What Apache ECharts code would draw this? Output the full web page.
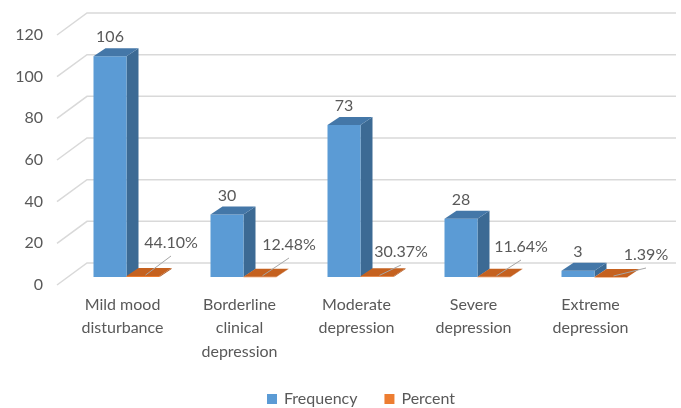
<!DOCTYPE html>
<html>
<head>
<meta charset="utf-8">
<script src="https://cdn.jsdelivr.net/npm/echarts@6/dist/echarts.min.js"></script>
<style>
  html, body { margin: 0; padding: 0; background: #fff; }
  #chart { width: 681px; height: 408px; }
</style>
</head>
<body>
<div id="chart"></div>
<script>
// Depression severity distribution
const categories = [
  'Mild mood\ndisturbance',
  'Borderline\nclinical\ndepression',
  'Moderate\ndepression',
  'Severe\ndepression',
  'Extreme\ndepression'
];
const frequency = [106, 30, 73, 28, 3];
const percent = [0.4410, 0.1248, 0.3037, 0.1164, 0.0139];
const yTicks = [0, 20, 40, 60, 80, 100, 120];

// Hand-placed offsets of the percent labels from their bars (px)
const pctLabelShift = [[28, -34], [29, -32], [24, -25], [27, -30], [35, -22]];

const FAMILY = 'Lato, "Open Sans", sans-serif';
const FS = 16;
const FONT = FS + 'px ' + FAMILY;
const TEXT = '#595959';
const DEPTH_X = 12, DEPTH_Y = -8;      // bar depth
const WALL_X = 19, WALL_Y = -14;       // back wall offset from bar plane
const FRONT_X = -11, FRONT_Y = 8;      // front edge offset from bar plane

function box(x0, w, yTop, yBase, c) {
  const x1 = x0 + w;
  return [
    { type: 'polygon', shape: { points: [[x1, yTop], [x1 + DEPTH_X, yTop + DEPTH_Y], [x1 + DEPTH_X, yBase + DEPTH_Y], [x1, yBase]] },
      style: { fill: c.side } },
    { type: 'rect', shape: { x: x0, y: yTop, width: w, height: Math.max(yBase - yTop, 0.6) },
      style: { fill: c.front } },
    { type: 'polygon', shape: { points: [[x0, yTop], [x1, yTop], [x1 + DEPTH_X, yTop + DEPTH_Y], [x0 + DEPTH_X, yTop + DEPTH_Y]] },
      style: { fill: c.top } }
  ];
}

const blue = { front: '#5B9BD5', side: '#3C6A94', top: '#4477A8' };
const orange = { front: '#ED7D31', side: '#A9521A', top: '#C5611F' };

const chart = echarts.init(document.getElementById('chart'), null, { renderer: 'canvas' });

chart.setOption({
  animation: false,
  backgroundColor: '#ffffff',
  grid: { left: 68, right: 28, top: 27, bottom: 131 },
  legend: {
    left: 262, top: 386,
    itemWidth: 10, itemHeight: 10, itemGap: 27,
    icon: 'rect',
    textStyle: { color: TEXT, fontSize: FS, fontFamily: FAMILY, padding: [0, 0, 0, 2] },
    data: ['Frequency', 'Percent']
  },
  xAxis: {
    type: 'category',
    data: categories,
    axisLine: { show: false },
    axisTick: { show: false },
    splitLine: { show: false },
    axisLabel: {
      color: TEXT, fontSize: FS, fontFamily: FAMILY,
      lineHeight: 23.5, margin: 16, interval: 0, padding: [0, 8, 0, 0]
    }
  },
  yAxis: {
    type: 'value',
    min: 0, max: 120, interval: 20,
    axisLine: { show: false },
    axisTick: { show: false },
    splitLine: { show: false },
    axisLabel: {
      color: TEXT, fontSize: FS, fontFamily: FAMILY,
      margin: 25, verticalAlign: 'top'
    }
  },
  series: [
    {
      // back wall gridlines with their slanted side-wall segments
      type: 'custom',
      silent: true,
      z: 1,
      data: yTicks.map(v => [0, v]),
      renderItem: function (params, api) {
        const cs = params.coordSys;
        const y = api.coord([0, api.value(1)])[1];
        const left = cs.x;
        const right = cs.x + cs.width;
        return {
          type: 'polyline',
          shape: { points: [[left + FRONT_X, y + FRONT_Y], [left + WALL_X, y + WALL_Y], [right + WALL_X + 4, y + WALL_Y]] },
          style: { stroke: '#D9D9D9', lineWidth: 1.5, fill: null }
        };
      }
    },
    {
      name: 'Frequency',
      type: 'custom',
      z: 3,
      itemStyle: { color: '#5B9BD5' },
      data: frequency.map((v, i) => [i, v]),
      renderItem: function (params, api) {
        const i = api.value(0);
        const band = api.size([1, 0])[0];
        const w = band * 33 / 117;
        const base = api.coord([i, 0]);
        const top = api.coord([i, api.value(1)]);
        const x0 = base[0] - w;
        const kids = box(x0, w, top[1], base[1], blue);
        kids.push({
          type: 'text',
          style: { text: String(api.value(1)), x: x0 + w / 2, y: top[1] - 19, align: 'center', verticalAlign: 'middle', fill: TEXT, font: FONT }
        });
        return { type: 'group', children: kids };
      }
    },
    {
      name: 'Percent',
      type: 'custom',
      z: 4,
      itemStyle: { color: '#ED7D31' },
      data: percent.map((v, i) => [i, v]),
      renderItem: function (params, api) {
        const i = api.value(0);
        const v = api.value(1);
        const band = api.size([1, 0])[0];
        const w = band * 33 / 117;
        const base = api.coord([i, 0]);
        const top = api.coord([i, v]);
        const x0 = base[0];
        const kids = box(x0, w, top[1], base[1], orange);
        const s = pctLabelShift[i];
        const lx = x0 + w / 2 + s[0];
        const ly = base[1] + s[1];
        kids.push({
          type: 'line',
          shape: { x1: x0 + 19, y1: top[1] - 1, x2: lx, y2: ly + 13 },
          style: { stroke: '#A6A6A6', lineWidth: 1 }
        });
        kids.push({
          type: 'text',
          style: { text: (v * 100).toFixed(2) + '%', x: lx, y: ly, align: 'center', verticalAlign: 'middle', fill: TEXT, font: FONT }
        });
        return { type: 'group', children: kids };
      }
    }
  ]
});
</script>
</body>
</html>
